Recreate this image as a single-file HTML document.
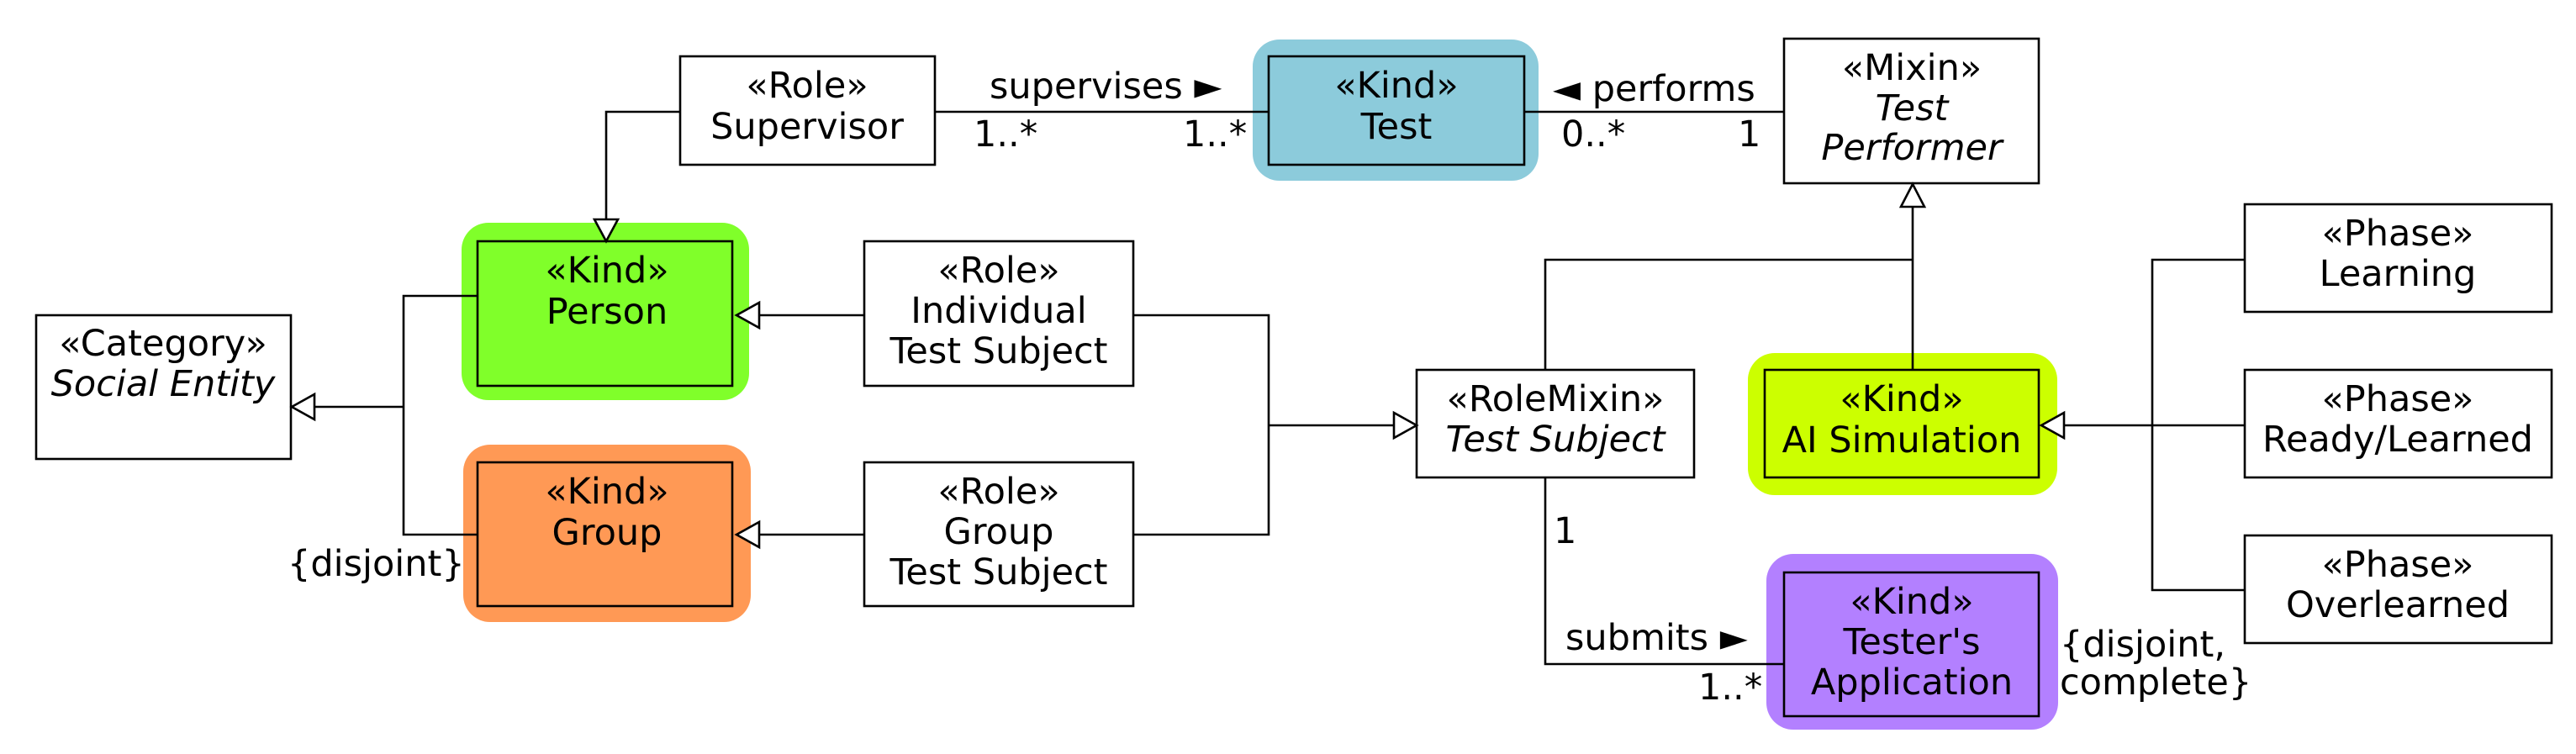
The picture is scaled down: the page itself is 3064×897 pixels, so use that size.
<!DOCTYPE html>
<html><head><meta charset="utf-8"><style>
html,body{margin:0;padding:0;background:#fff;}
svg{display:block;}
text{font-family:"DejaVu Sans","Liberation Sans",sans-serif;font-size:43px;fill:#000;}
.c{text-anchor:middle;}
.i{font-style:italic;}
</style></head><body>
<svg width="3064" height="897" viewBox="0 0 3064 897" xmlns="http://www.w3.org/2000/svg">
<!-- colored backgrounds -->
<rect x="1490" y="47" width="340" height="168" rx="32" fill="#8ccbdb"/>
<rect x="549" y="265" width="342" height="211" rx="32" fill="#80ff2a"/>
<rect x="551" y="529" width="342" height="211" rx="32" fill="#ff9955"/>
<rect x="2079" y="420" width="368" height="169" rx="32" fill="#ccff00"/>
<rect x="2101" y="659" width="347" height="209" rx="32" fill="#b380ff"/>

<g fill="none" stroke="#000" stroke-width="2.6">
<!-- boxes -->
<rect x="809" y="67" width="303" height="129" fill="#fff"/>
<rect x="1509" y="67" width="304" height="129"/>
<rect x="2122" y="46" width="303" height="172" fill="#fff"/>
<rect x="43" y="375" width="303" height="171" fill="#fff"/>
<rect x="568" y="287" width="303" height="172"/>
<rect x="568" y="550" width="303" height="171"/>
<rect x="1028" y="287" width="320" height="172" fill="#fff"/>
<rect x="1028" y="550" width="320" height="171" fill="#fff"/>
<rect x="1685" y="440" width="330" height="128" fill="#fff"/>
<rect x="2099" y="440" width="326" height="128"/>
<rect x="2122" y="681" width="303" height="171"/>
<rect x="2670" y="243" width="365" height="128" fill="#fff"/>
<rect x="2670" y="440" width="365" height="128" fill="#fff"/>
<rect x="2670" y="637" width="365" height="128" fill="#fff"/>

<!-- connectors -->
<polyline points="809,133 721,133 721,261"/>
<line x1="1112" y1="133" x2="1509" y2="133"/>
<line x1="1813" y1="133" x2="2122" y2="133"/>
<polyline points="568,352 480,352 480,636 568,636"/>
<line x1="480" y1="484" x2="373" y2="484"/>
<line x1="1028" y1="375" x2="903" y2="375"/>
<line x1="1028" y1="636" x2="903" y2="636"/>
<polyline points="1348,375 1509,375 1509,636 1348,636"/>
<line x1="1509" y1="506" x2="1658" y2="506"/>
<line x1="2275" y1="440" x2="2275" y2="246"/>
<polyline points="1838,440 1838,309 2275,309"/>
<polyline points="1838,568 1838,790 2122,790"/>
<polyline points="2670,309 2560,309 2560,702 2670,702"/>
<line x1="2670" y1="506" x2="2455" y2="506"/>

<!-- hollow arrowheads -->
<polygon points="721,287 707,261 735,261" fill="#fff"/>
<polygon points="347,484 374,469 374,499" fill="#fff"/>
<polygon points="876,375 903,360 903,390" fill="#fff"/>
<polygon points="876,636 903,621 903,651" fill="#fff"/>
<polygon points="1685,506 1658,491 1658,521" fill="#fff"/>
<polygon points="2275,219 2261,246 2289,246" fill="#fff"/>
<polygon points="2428,506 2455,491 2455,521" fill="#fff"/>
</g>

<!-- text -->
<text class="c" x="960" y="116">«Role»</text>
<text class="c" x="960" y="165">Supervisor</text>
<text class="c" x="1661" y="116">«Kind»</text>
<text class="c" x="1661" y="165">Test</text>
<text class="c" x="2274" y="95">«Mixin»</text>
<text class="c i" x="2274" y="143">Test</text>
<text class="c i" x="2274" y="190">Performer</text>
<text class="c" x="194" y="423">«Category»</text>
<text class="c i" x="194" y="471">Social Entity</text>
<text class="c" x="722" y="336">«Kind»</text>
<text class="c" x="722" y="385">Person</text>
<text class="c" x="722" y="599">«Kind»</text>
<text class="c" x="722" y="648">Group</text>
<text class="c" x="1188" y="336">«Role»</text>
<text class="c" x="1188" y="384">Individual</text>
<text class="c" x="1188" y="432">Test Subject</text>
<text class="c" x="1188" y="599">«Role»</text>
<text class="c" x="1188" y="647">Group</text>
<text class="c" x="1188" y="695">Test Subject</text>
<text class="c" x="1850" y="489">«RoleMixin»</text>
<text class="c i" x="1850" y="537">Test Subject</text>
<text class="c" x="2262" y="489">«Kind»</text>
<text class="c" x="2262" y="538">AI Simulation</text>
<text class="c" x="2274" y="730">«Kind»</text>
<text class="c" x="2274" y="778">Tester's</text>
<text class="c" x="2274" y="826">Application</text>
<text class="c" x="2852" y="292">«Phase»</text>
<text class="c" x="2852" y="340">Learning</text>
<text class="c" x="2852" y="489">«Phase»</text>
<text class="c" x="2852" y="537">Ready/Learned</text>
<text class="c" x="2852" y="686">«Phase»</text>
<text class="c" x="2852" y="734">Overlearned</text>

<text x="1177" y="117">supervises ►</text>
<text x="1158" y="174">1..*</text>
<text x="1407" y="174">1..*</text>
<text x="1847" y="120">◄ performs</text>
<text x="1857" y="174">0..*</text>
<text x="2067" y="174">1</text>
<text x="342" y="685">{disjoint}</text>
<text x="1848" y="646">1</text>
<text x="1862" y="773">submits ►</text>
<text x="2020" y="832">1..*</text>
<text x="2450" y="781">{disjoint,</text>
<text x="2450" y="826">complete}</text>
</svg>
</body></html>
